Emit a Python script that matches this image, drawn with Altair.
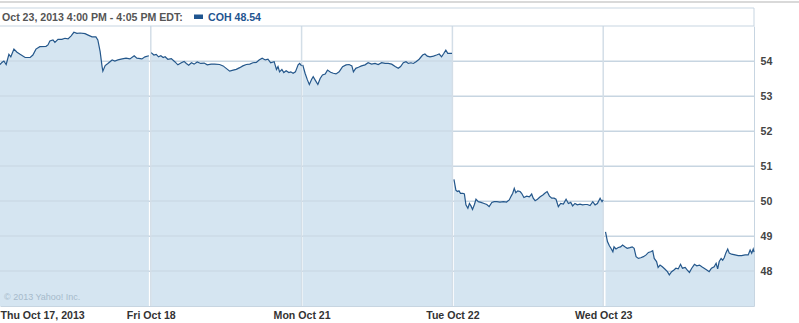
import altair as alt
import pandas as pd

day_labels = ["Thu Oct 17, 2013", "Fri Oct 18", "Mon Oct 21", "Tue Oct 22", "Wed Oct 23"]
y_ticks = [48, 49, 50, 51, 52, 53, 54]

# minutes after the 9:30 open, and price, for each session
thu_min = [0, 5, 10, 16, 23, 28, 36, 44, 52, 65, 78, 85, 93, 103, 119, 124, 129, 137, 142, 150,
           160, 168, 176, 184, 191, 199, 207, 220, 228, 238, 248, 253, 259, 264, 266, 272, 279, 290, 297, 305,
           316, 326, 336, 347, 354, 367, 375, 385]
thu_px = [53.90, 53.96, 54.00, 53.90, 54.19, 54.12, 54.34, 54.25, 54.19, 54.10, 54.10, 54.17, 54.34, 54.41, 54.42, 54.46, 54.57, 54.60, 54.53, 54.62,
          54.62, 54.65, 54.63, 54.72, 54.82, 54.79, 54.80, 54.78, 54.74, 54.69, 54.69, 54.60, 54.27, 53.84, 53.71, 53.87, 53.93, 54.03, 54.00, 54.03,
          54.06, 54.08, 54.06, 54.15, 54.08, 54.06, 54.12, 54.15]

fri_min = [1, 8, 14, 20, 26, 32, 37, 44, 53, 62, 70, 79, 86, 92, 98, 105, 112, 120, 129, 138,
           146, 156, 165, 178, 187, 195, 204, 213, 221, 230, 238, 247, 256, 264, 273, 280, 288, 296, 303, 310,
           319, 325, 329, 333, 339, 344, 350, 357, 362, 368, 374, 381, 385, 390]
fri_px = [54.24, 54.17, 54.19, 54.12, 54.15, 54.10, 54.12, 54.05, 54.07, 53.98, 53.89, 53.95, 53.99, 53.93, 53.88, 53.95, 53.91, 53.97, 53.93, 53.94,
          53.89, 53.91, 53.91, 53.90, 53.86, 53.79, 53.71, 53.74, 53.76, 53.81, 53.86, 53.90, 53.91, 53.95, 53.96, 54.03, 54.08, 54.03, 54.05, 53.95,
          53.98, 53.76, 53.84, 53.69, 53.76, 53.67, 53.72, 53.67, 53.69, 53.65, 53.69, 53.89, 53.93, 53.86]

mon_min = [3, 9, 15, 20, 26, 30, 36, 42, 48, 54, 61, 67, 75, 82, 89, 97, 106, 115, 123, 130,
           134, 140, 147, 155, 164, 172, 181, 190, 198, 207, 216, 224, 233, 242, 250, 256, 263, 270, 276, 283,
           289, 296, 304, 313, 319, 325, 332, 341, 349, 356, 362, 368, 373, 378, 384, 389]
mon_px = [53.89, 53.65, 53.46, 53.33, 53.48, 53.55, 53.44, 53.33, 53.50, 53.60, 53.63, 53.74, 53.68, 53.65, 53.63, 53.69, 53.84, 53.89, 53.90, 53.86,
          53.69, 53.79, 53.82, 53.86, 53.89, 53.95, 53.91, 53.93, 53.90, 53.95, 53.93, 53.93, 53.91, 53.84, 53.79, 53.84, 53.95, 53.98, 53.93, 53.95,
          53.93, 53.98, 54.05, 54.17, 54.20, 54.14, 54.12, 54.14, 54.17, 54.20, 54.12, 54.22, 54.31, 54.22, 54.22, 54.22]

tue_min = [4, 9, 13, 17, 21, 27, 31, 35, 40, 44, 48, 52, 57, 61, 67, 74, 82, 89, 95, 102,
           108, 115, 123, 132, 140, 147, 152, 156, 160, 164, 169, 175, 179, 185, 192, 199, 205, 209, 214, 220,
           227, 234, 239, 245, 251, 257, 263, 268, 274, 280, 287, 294, 300, 306, 311, 317, 323, 330, 337, 343,
           349, 356, 363, 369, 375, 382, 387, 390]
tue_px = [50.62, 50.31, 50.27, 50.29, 50.22, 50.22, 50.20, 49.89, 49.79, 49.93, 49.86, 49.76, 49.90, 50.05, 49.98, 49.96, 49.93, 49.90, 49.84, 49.96,
          49.98, 49.98, 49.97, 49.98, 49.97, 50.03, 50.14, 50.22, 50.36, 50.24, 50.29, 50.27, 50.22, 50.10, 50.14, 50.12, 50.20, 50.08, 50.01, 50.05,
          50.12, 50.17, 50.22, 50.27, 50.14, 50.08, 50.08, 50.05, 49.84, 49.93, 49.91, 50.05, 49.93, 49.96, 49.86, 49.93, 49.89, 49.91, 49.89, 49.90,
          49.90, 49.87, 49.98, 49.89, 49.93, 50.08, 49.98, 50.03]

wed_min = [6, 11, 16, 20, 25, 28, 33, 39, 45, 50, 56, 62, 69, 75, 80, 85, 91, 97, 104, 111,
           117, 123, 128, 132, 138, 142, 147, 153, 160, 166, 171, 177, 183, 188, 194, 200, 205, 212, 217, 223,
           229, 236, 242, 249, 255, 261, 268, 274, 280, 287, 292, 296, 300, 305, 309, 313, 317, 322, 326, 332,
           341, 349, 358, 367, 375, 380, 384, 388, 390]
wed_px = [49.12, 48.84, 48.72, 48.65, 48.55, 48.69, 48.63, 48.67, 48.69, 48.74, 48.69, 48.65, 48.67, 48.69, 48.65, 48.41, 48.36, 48.38, 48.41, 48.46,
          48.53, 48.55, 48.58, 48.36, 48.27, 48.10, 48.17, 48.12, 48.05, 47.98, 47.89, 47.98, 48.03, 48.08, 48.06, 48.19, 48.08, 48.10, 48.03, 47.96,
          48.08, 48.19, 48.15, 48.17, 48.12, 48.08, 48.03, 47.98, 48.08, 48.12, 48.22, 48.06, 48.27, 48.36, 48.31, 48.38, 48.51, 48.63, 48.51, 48.48,
          48.46, 48.44, 48.44, 48.46, 48.46, 48.60, 48.51, 48.63, 48.54]

header_text = "Oct 23, 2013 4:00 PM - 4:05 PM EDT:"
legend_text = "COH 48.54"
copyright_text = "\u00a9 2013 Yahoo! Inc."

rows = []
for d, (mins, pxs) in enumerate([(thu_min, thu_px), (fri_min, fri_px), (mon_min, mon_px),
                                 (tue_min, tue_px), (wed_min, wed_px)]):
    for m, p in zip(mins, pxs):
        rows.append({"t": d + m / 390.0, "price": p, "day": d})
df = pd.DataFrame(rows)

FONT = "Liberation Sans"
FS = 10.6
LINE = "#24578b"
FILL = "#d5e5f1"
GRID = "#c7d5e1"

label_expr = "[" + ",".join('"%s"' % s for s in day_labels) + "][datum.value]"

x_scale = alt.Scale(domain=[0, 5], nice=False, zero=False)
y_scale = alt.Scale(domain=[47, 55], nice=False, zero=False)

base = alt.Chart(df)

area = base.mark_area(color=FILL, opacity=1).encode(
    x=alt.X("t:Q", scale=x_scale, title=None,
            axis=alt.Axis(values=[0, 1, 2, 3, 4], labelExpr=label_expr, grid=False,
                          ticks=False, domain=True, domainColor=GRID, labelFlush=True,
                          labelFont=FONT, labelFontSize=FS, labelFontWeight="bold",
                          labelColor="#333333", labelPadding=4)),
    y=alt.Y("price:Q", scale=y_scale, title=None,
            axis=alt.Axis(orient="right", values=y_ticks, grid=True, gridColor=GRID,
                          ticks=False, domain=True, domainColor=GRID,
                          labelFont=FONT, labelFontSize=FS, labelFontWeight="bold",
                          labelColor="#444444", labelPadding=6)),
    y2=alt.datum(47),
    detail="day:N",
)

line = base.mark_line(color=LINE, strokeWidth=1.2).encode(
    x=alt.X("t:Q", scale=x_scale),
    y=alt.Y("price:Q", scale=y_scale),
    detail="day:N",
)

vgrid_df = pd.DataFrame({"t": [1, 2, 3, 4]})
vgrid = alt.Chart(vgrid_df).mark_rule(color="#d3dee7", strokeWidth=1.5).encode(
    x=alt.X("t:Q", scale=x_scale)
)

hgrid_df = pd.DataFrame({"p": y_ticks})
hgrid = alt.Chart(hgrid_df).mark_rule(color=GRID, strokeWidth=1).encode(
    y=alt.Y("p:Q", scale=y_scale)
)

# header decorations
one = pd.DataFrame({"a": [0]})
top_line = alt.Chart(one).mark_rule(color="#cccccc", strokeWidth=1.5).encode(
    x=alt.value(0), x2=alt.value(799), y=alt.value(-24))
box_top = alt.Chart(one).mark_rule(color=GRID, strokeWidth=1).encode(
    x=alt.value(0), x2=alt.value(754), y=alt.value(-18))
box_right = alt.Chart(one).mark_rule(color=GRID, strokeWidth=1).encode(
    x=alt.value(754), y=alt.value(-18), y2=alt.value(0))
plot_top = alt.Chart(one).mark_rule(color=GRID, strokeWidth=1).encode(
    x=alt.value(0), x2=alt.value(754), y=alt.value(0))

header = alt.Chart(one).mark_text(
    align="left", baseline="middle", font=FONT, fontSize=FS, fontWeight="bold", color="#555555"
).encode(x=alt.value(2), y=alt.value(-8.5), text=alt.value(header_text))

swatch = alt.Chart(one).mark_rect(color="#1f5590").encode(
    x=alt.value(194), x2=alt.value(203), y=alt.value(-11.5), y2=alt.value(-7))

legend = alt.Chart(one).mark_text(
    align="left", baseline="middle", font=FONT, fontSize=FS, fontWeight="bold", color="#1f5590"
).encode(x=alt.value(208), y=alt.value(-8.5), text=alt.value(legend_text))

copyright_mark = alt.Chart(one).mark_text(
    align="left", baseline="middle", font=FONT, fontSize=9, color="#a6bacb"
).encode(x=alt.value(4), y=alt.value(271), text=alt.value(copyright_text))

chart = alt.layer(
    area, hgrid, vgrid, line, copyright_mark,
    top_line, box_top, box_right, plot_top, header, swatch, legend
).properties(
    width=754, height=280,
    autosize=alt.AutoSizeParams(type="none"),
    padding={"left": 0, "top": 26, "right": 45, "bottom": 17},
    background="white",
).configure_view(stroke=None)

chart.save("out.html", embed_options={"renderer": "svg", "actions": False})
